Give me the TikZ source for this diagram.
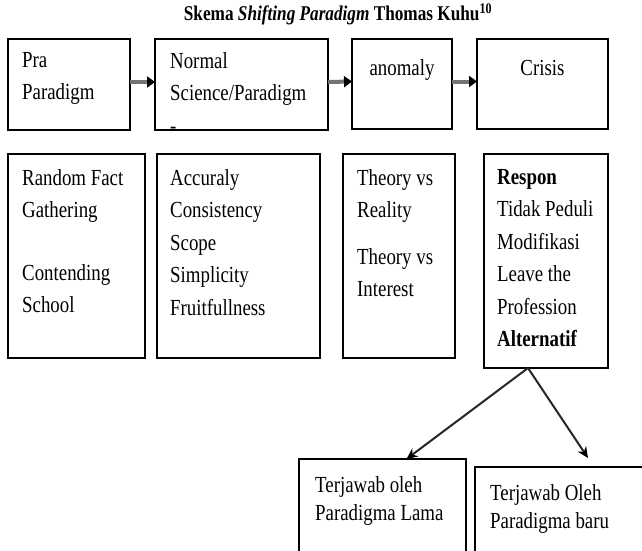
\documentclass[tikz,border=0pt]{standalone}
\usepackage{fontspec}
\setmainfont[FakeStretch=0.82]{Liberation Serif}
\usetikzlibrary{calc,arrows.meta}
\begin{document}
\begin{tikzpicture}[x=1pt,y=-1pt,
  box/.style={draw=black,line width=1.7pt,fill=white,anchor=north west,inner sep=0pt,outer sep=0pt},
  txt/.style={anchor=north west,inner sep=0pt,align=left,font=\fontsize{23}{32.5}\selectfont,execute at begin node=\strut},
  txtb/.style={anchor=north west,inner sep=0pt,align=left,font=\fontsize{23}{28.5}\selectfont,execute at begin node=\strut},
  toparrow/.style={draw=black!55,line width=4pt,-{Triangle[length=8pt,width=11pt,color=black,fill=black]}},
  botarrow/.style={draw=black!85,line width=2pt,-{Stealth[length=11pt,width=10pt,color=black,fill=black]}}]
\useasboundingbox (0,0) rectangle (642,551);
\clip (0,0) rectangle (642,551);
\fill[white] (0,0) rectangle (642,551);
% title
\node[anchor=base,inner sep=0pt,font=\fontsize{21}{24}\selectfont\bfseries] (title) at (338,21)
  {Skema \textit{Shifting Paradigm} Thomas Kuhu\textsuperscript{10}};
% top row boxes
\node[box,minimum width=122pt,minimum height=91pt] (b1) at (8,39) {};
\node[box,minimum width=173pt,minimum height=91pt] (b2) at (155,39) {};
\node[box,minimum width=100pt,minimum height=90pt] (b3) at (352,39) {};
\node[box,minimum width=131pt,minimum height=90pt] (b4) at (477,39) {};
% second row boxes
\node[box,minimum width=137pt,minimum height=204pt] (b5) at (8,154) {};
\node[box,minimum width=163pt,minimum height=204pt] (b6) at (157,154) {};
\node[box,minimum width=112pt,minimum height=204pt] (b7) at (343,154) {};
\node[box,minimum width=124pt,minimum height=214pt] (b8) at (484,154) {};
% bottom boxes
\node[box,minimum width=167pt,minimum height=120pt] (b9) at (299,459) {};
\node[box,minimum width=190pt,minimum height=120pt] (b10) at (475,467) {};
% texts
\node[txt] (t1) at ($(b1.north west)+(14,13)$) {Pra\\Paradigm};
\node[txt] (t2) at ($(b2.north west)+(15,13)$) {Normal\\Science/Paradigm\\-};
\node[txt,anchor=north] (t3) at ($(b3.north)+(0,14)$) {anomaly};
\node[txt,anchor=north] (t4) at ($(b4.north)+(0,14)$) {Crisis};
\node[txt] (t5) at ($(b5.north west)+(14,15)$) {Random Fact\\Gathering\\[30pt]Contending\\School};
\node[txt] (t6) at ($(b6.north west)+(13,15)$) {Accuraly\\Consistency\\Scope\\Simplicity\\Fruitfullness};
\node[txt] (t7) at ($(b7.north west)+(14,15)$) {Theory vs\\Reality\\[14pt]Theory vs\\Interest};
\node[txt] (t8) at ($(b8.north west)+(13,15)$) {\textbf{Respon}\\Tidak Peduli\\Modifikasi\\Leave the\\Profession\\\textbf{Alternatif}};
\node[txtb] (t9) at ($(b9.north west)+(16,17)$) {Terjawab oleh\\Paradigma Lama};
\node[txtb] (t10) at ($(b10.north west)+(15,17)$) {Terjawab Oleh\\Paradigma baru};
% connectors
\draw[toparrow] ([yshift=2.5pt]b1.east) -- ([yshift=2.5pt]b2.west);
\draw[toparrow] ([yshift=2.5pt]b2.east) -- ([yshift=2.5pt]b3.west);
\draw[toparrow] ([yshift=2.5pt]b3.east) -- ([yshift=2.5pt]b4.west);
\coordinate (split) at ([xshift=-18pt]b8.south);
\coordinate (rend) at ([xshift=113pt,yshift=9pt]b10.north west);
\draw[botarrow] (split) -- ([xshift=24pt]b9.north);
\draw[botarrow] (split) -- (rend);
\end{tikzpicture}
\end{document}
